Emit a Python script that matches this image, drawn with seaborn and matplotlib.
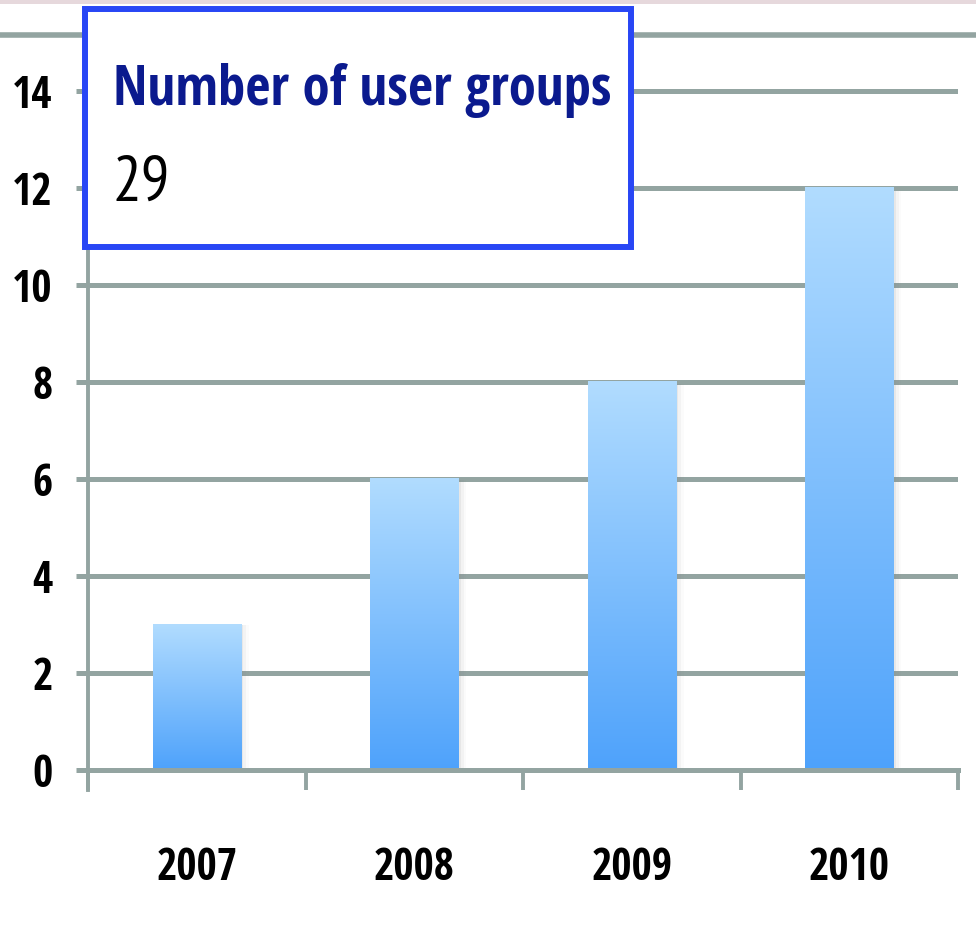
import numpy as np
import pandas as pd
import matplotlib
matplotlib.use("Agg")
import matplotlib.pyplot as plt
import seaborn as sns
from matplotlib.patches import Rectangle
from matplotlib.lines import Line2D
from matplotlib.colors import LinearSegmentedColormap

# ---- data ----
years = ["2007", "2008", "2009", "2010"]
user_groups = [3, 6, 8, 12]
y_ticks = [0, 2, 4, 6, 8, 10, 12, 14]
box_title = "Number of user groups"
box_value = "29"

W, H, DPI = 976, 938, 100
sns.set_theme(style="white")

FAM_B = ['Open Sans Condensed', 'DejaVu Sans']
FAM_R = ['PT Sans Narrow', 'DejaVu Sans']
plt.rcParams['font.family'] = FAM_B

GRID = "#93a4a1"
fig = plt.figure(figsize=(W / DPI, H / DPI), dpi=DPI)
ax_l, ax_r, ax_b, ax_t = 88, 958, 770, 35
ax = fig.add_axes([ax_l / W, 1 - ax_b / H, (ax_r - ax_l) / W, (ax_b - ax_t) / H])

df = pd.DataFrame({"year": years, "groups": user_groups})
sns.barplot(data=df, x="year", y="groups", ax=ax, width=0.405, color="#4ea2fb",
            saturation=1, zorder=3)

ax.set_yticks(y_ticks)
ax.set_yticklabels([str(v) for v in y_ticks])
ax.set_xlabel("")
ax.set_ylabel("")

for v in y_ticks[1:]:
    ax.axhline(v, color=GRID, lw=3.6, zorder=1, solid_capstyle="butt")

cmap = LinearSegmentedColormap.from_list("g", ["#4ea2fb", "#b1dcff"])
grad = np.linspace(0, 1, 256).reshape(-1, 1)
for p in ax.patches:
    x0, w, h = p.get_x(), p.get_width(), p.get_height()
    for i, a in enumerate([0.10, 0.06, 0.03]):
        ax.add_patch(Rectangle((x0 + w, 0), 0.012 * (i + 1), h * 0.995,
                               facecolor="#808080", alpha=a, lw=0, zorder=2.5))
    ax.imshow(grad, extent=[x0, x0 + w, 0, h], origin="lower", cmap=cmap,
              aspect="auto", zorder=3.2, interpolation="bicubic")
    p.set_visible(False)
ax.set_xlim(-0.5, len(years) - 0.5)
ax.set_ylim(0, 15.15)

for s in ["top", "right"]:
    ax.spines[s].set_visible(False)
ax.spines["bottom"].set_color(GRID)
ax.spines["bottom"].set_linewidth(3.6)
ax.spines["bottom"].set_zorder(4)
ax.spines["left"].set_color(GRID)
ax.spines["left"].set_linewidth(2.8)
ax.spines["left"].set_bounds(-0.42, 15.15)

ax.tick_params(axis="y", which="major", left=True, length=8.6, width=3.6, color=GRID,
               pad=17, labelsize=31.5)
ax.tick_params(axis="x", which="major", bottom=False, pad=49, labelsize=31.5)
ax.set_xticks(np.arange(-0.5, len(years), 1.0), minor=True)
ax.tick_params(axis="x", which="minor", bottom=True, length=14.4, width=2.8, color=GRID,
               direction="out")
for lab in ax.get_yticklabels() + ax.get_xticklabels():
    lab.set_fontweight("bold")
    lab.set_color("black")
ax.set_facecolor("white")

fig.add_artist(Line2D([0, 1], [1 - 35 / H, 1 - 35 / H], transform=fig.transFigure,
                      color=GRID, lw=4.0, zorder=1))
fig.add_artist(Rectangle((0, 1 - 4 / H), 1, 4 / H, transform=fig.transFigure,
                         facecolor="#e6d8dc", lw=0, zorder=1))

bx0, by0, bx1, by1 = 85, 9, 631, 247
fig.add_artist(Rectangle((bx0 / W, 1 - by1 / H), (bx1 - bx0) / W, (by1 - by0) / H,
                         transform=fig.transFigure, facecolor="white",
                         edgecolor="#2846f5", lw=4.3, zorder=10))
fig.text(113 / W, 1 - 105 / H, box_title, color="#0b1a8e", fontsize=39.5,
         fontweight="bold", family=FAM_B, va="baseline", ha="left", zorder=11)
fig.text(113 / W, 1 - 200 / H, box_value, color="black", fontsize=46,
         family=FAM_R, va="baseline", ha="left", zorder=11)

fig.savefig("out.png", dpi=DPI, facecolor="white")
